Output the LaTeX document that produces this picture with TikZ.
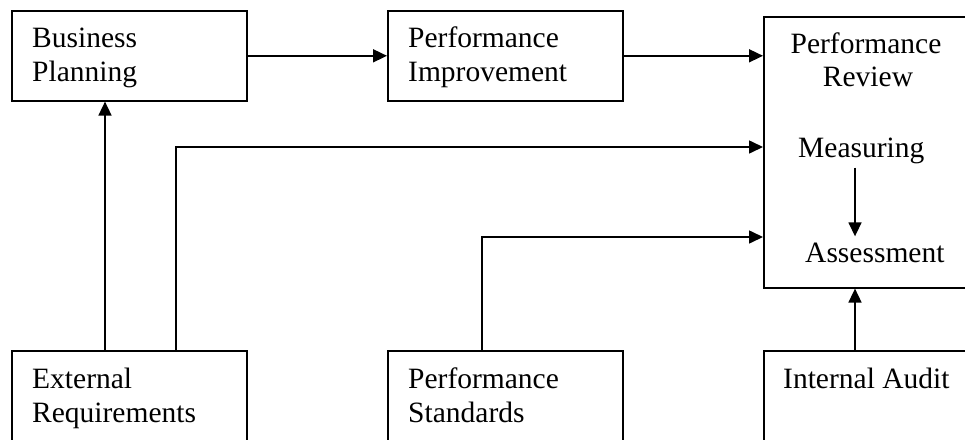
\documentclass[tikz,border=0pt]{standalone}
\usepackage{fontspec}
\setmainfont{Liberation Serif}
\usetikzlibrary{arrows.meta}
\begin{document}
\begin{tikzpicture}[x=1pt,y=-1pt,
  box/.style={draw, line width=1.6pt, rectangle, inner sep=0pt, anchor=north west},
  lbl/.style={font=\fontsize{29.5}{34}\selectfont, inner sep=0pt, anchor=base west},
  clbl/.style={font=\fontsize{29.5}{34}\selectfont, inner sep=0pt, anchor=base},
  conn/.style={line width=1.6pt, -{Triangle[length=14pt,width=13pt]}}]
\useasboundingbox (0,0) rectangle (965,439);
% boxes
\node[box, minimum width=235pt, minimum height=90pt] (bp) at (11,10) {};
\node[box, minimum width=235pt, minimum height=90pt] (pi) at (387,10) {};
\node[box, minimum width=240pt, minimum height=271pt] (pr) at (763,16) {};
\node[box, minimum width=235pt, minimum height=120pt] (er) at (11,350) {};
\node[box, minimum width=235pt, minimum height=120pt] (ps) at (387,350) {};
\node[box, minimum width=240pt, minimum height=120pt] (ia) at (763,350) {};
% texts
\node[lbl] (bp1) at (32,47) {Business};
\node[lbl] (bp2) at (32,81) {Planning};
\node[lbl] (pi1) at (408,47) {Performance};
\node[lbl] (pi2) at (408,81) {Improvement};
\node[clbl] (pr1) at (866,53) {Performance};
\node[clbl] (pr2) at (868,86) {Review};
\node[lbl] (meas) at (798,157) {Measuring};
\node[lbl] (assess) at (805,262) {Assessment};
\node[lbl] (er1) at (32,388) {External};
\node[lbl] (er2) at (32,422) {Requirements};
\node[lbl] (ps1) at (408,388) {Performance};
\node[lbl] (ps2) at (408,422) {Standards};
\node[lbl] (ia1) at (783,388) {Internal Audit};
% connectors
\coordinate (mx) at (855,0);
\draw[conn] (bp.east) -- (pi.west);
\draw[conn] (pi.east) -- (pi.east -| pr.west);
\draw[conn] ([xshift=94pt]er.north west) -- ([xshift=94pt]bp.south west);
\draw[conn] ([xshift=165pt]er.north west) |- ([yshift=-131pt]pr.north west);
\draw[conn] ([xshift=95pt]ps.north west) |- ([yshift=-221pt]pr.north west);
\draw[conn, shorten <=4pt, shorten >=6pt] (meas.south -| mx) -- (assess.north -| mx);
\draw[conn] (ia.north west -| mx) -- (pr.south west -| mx);
\end{tikzpicture}
\end{document}
